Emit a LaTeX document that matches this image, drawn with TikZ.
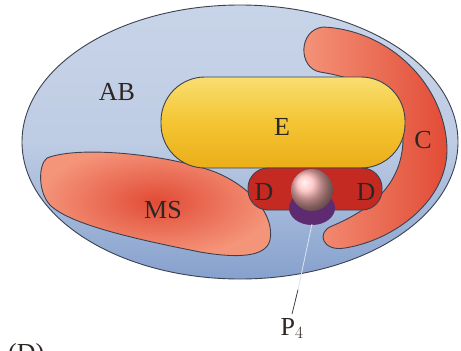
\documentclass[tikz,border=0pt]{standalone}
\usepackage{fontspec}
\setmainfont{Liberation Serif}
\usetikzlibrary{calc}
\definecolor{outline}{HTML}{3C4150}
\definecolor{bluetop}{HTML}{C8D4E8}
\definecolor{bluebot}{HTML}{86A1CD}
\definecolor{salmonA}{HTML}{F4957A}
\definecolor{salmonB}{HTML}{E24B36}
\definecolor{yelA}{HTML}{F8DE70}
\definecolor{yelB}{HTML}{F4C533}
\definecolor{yelC}{HTML}{EAAE18}
\definecolor{dred}{HTML}{C42A22}
\definecolor{purp}{HTML}{5E2A70}
\definecolor{labelcol}{HTML}{2E2622}
\tikzset{
  part/.style={draw=outline, line width=0.9pt},
  lbl/.style={font=\fontsize{26}{30}\selectfont, text=labelcol, inner sep=0pt},
}
\begin{document}
\begin{tikzpicture}[x=1pt,y=-1pt]
\clip (0,0) rectangle (461,351);
\useasboundingbox (0,0) rectangle (461,351);
\fill[white] (0,0) rectangle (461,351);

% outer cell
\draw[part, top color=bluetop, bottom color=bluebot, middle color=bluetop!85!bluebot]
  (240,142) ellipse [x radius=218, y radius=137];

% C crescent
\draw[part, left color=salmonA, right color=salmonB]
  (323,27) .. controls (390,30) and (445,85) .. (447,148)
  .. controls (448,200) and (395,240) .. (345,248)
  .. controls (322,252) and (316,232) .. (332,226)
  .. controls (370,210) and (402,185) .. (403,140)
  .. controls (404,100) and (370,80) .. (320,72)
  .. controls (298,68) and (298,30) .. (323,27) -- cycle;

% MS
\draw[part, inner color=salmonB, outer color=salmonA]
  (47,158) .. controls (80,145) and (170,155) .. (215,172)
  .. controls (250,186) and (275,215) .. (270,240)
  .. controls (266,258) and (235,258) .. (200,252)
  .. controls (140,240) and (70,225) .. (50,205)
  .. controls (38,192) and (38,165) .. (47,158) -- cycle;

% E
\draw[part, rounded corners=44pt, top color=yelA, bottom color=yelC, middle color=yelB]
  (161,77) rectangle (405,168);

% D body
\draw[part, rounded corners=20pt, fill=dred] (248,168) rectangle (382,210);

% P4 granule
\fill[purp] (312,208) ellipse [x radius=23, y radius=17];
\shade[ball color=red!28!white] (312,190) circle [radius=21];
\coordinate (pbase) at (312,224);

% labels
\node[lbl] (ab) at (117,92) {AB};
\node[lbl] (e) at (282,127) {E};
\node[lbl] (c) at (423,140) {C};
\node[lbl] (ms) at (163,210) {MS};
\node[lbl] (dl) at (264,192) {D};
\node[lbl] (dr) at (366,192) {D};
\node[lbl, anchor=north] (p4) at (292,318) {P$_4$};
\node[lbl, anchor=base west] (panel) at (8,361) {(D)};

\draw[line width=0.8pt, white!70!bluebot] (pbase) -- ($(pbase)!0.7!(p4.north)$);
\draw[line width=0.8pt, outline] ($(pbase)!0.7!(p4.north)$) -- ($(p4.north)+(0,-4)$);
\end{tikzpicture}
\end{document}
